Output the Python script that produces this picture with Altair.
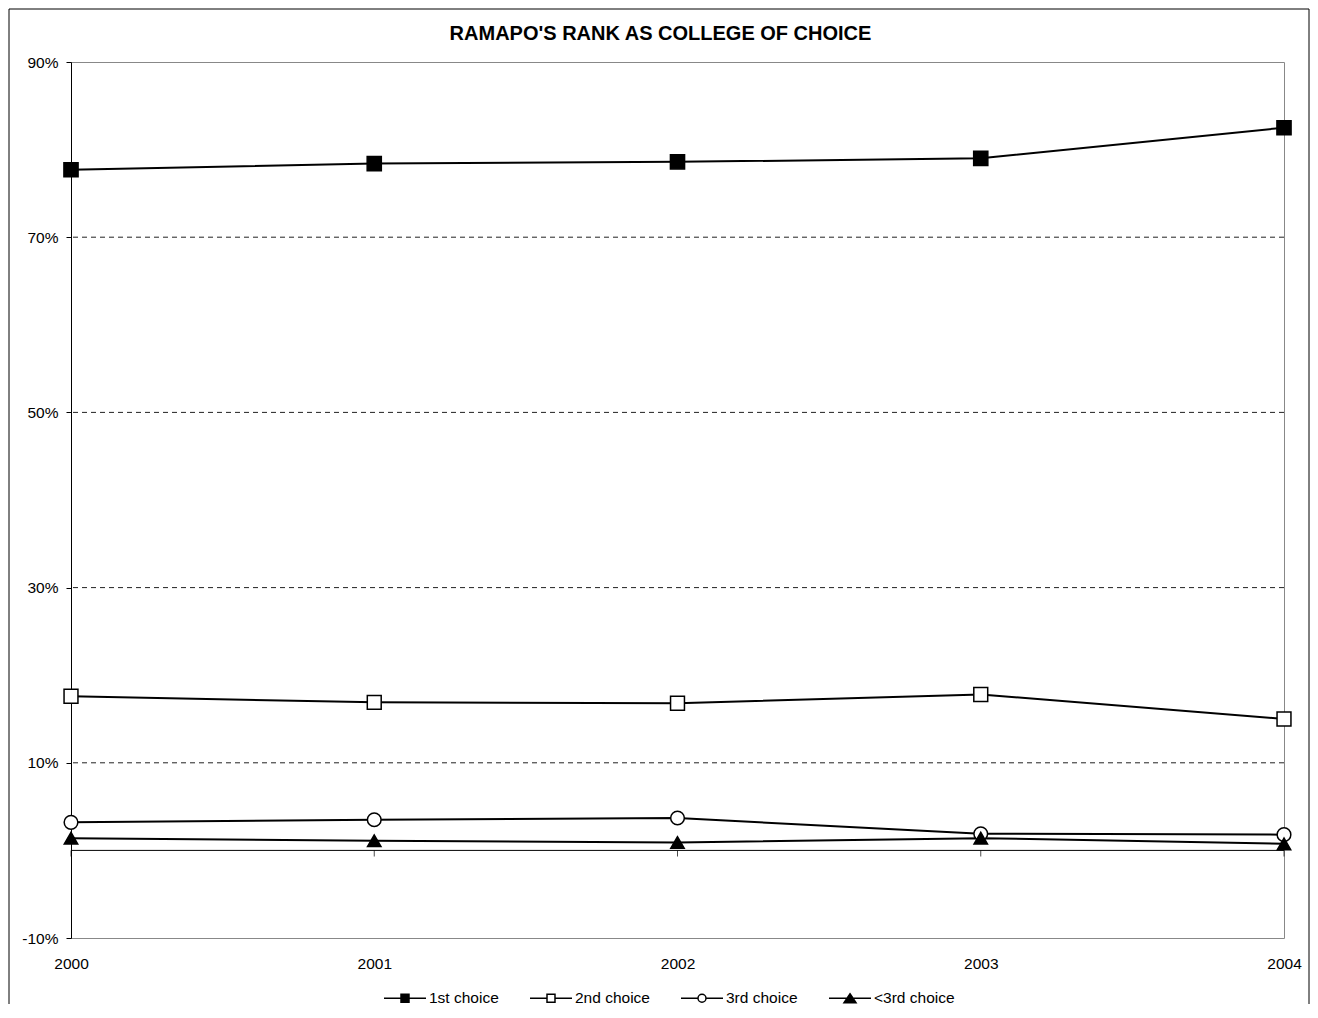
import altair as alt
import pandas as pd

# ---- data ----
years = [2000, 2001, 2002, 2003, 2004]
series_names = ["1st choice", "2nd choice", "3rd choice", "<3rd choice"]
first_choice = [0.777, 0.784, 0.786, 0.790, 0.825]
second_choice = [0.176, 0.169, 0.168, 0.178, 0.150]
third_choice = [0.032, 0.035, 0.037, 0.019, 0.018]
below_third = [0.014, 0.011, 0.009, 0.014, 0.0075]
y_ticks = [-0.1, 0.1, 0.3, 0.5, 0.7, 0.9]
grid_values = [0.1, 0.3, 0.5, 0.7]
zero_value = [0.0]
title_text = "RAMAPO'S RANK AS COLLEGE OF CHOICE"

rows = []
for name, vals in zip(series_names, [first_choice, second_choice, third_choice, below_third]):
    for yr, v in zip(years, vals):
        rows.append({"year": yr, "series": name, "share": v})
df = pd.DataFrame(rows)
grid_df = pd.DataFrame({"share": grid_values})
zero_df = pd.DataFrame({"share": zero_value})
tick_df = pd.DataFrame({"year": years, "share": [0.0] * len(years)})

W, H = 1213, 876
FONT = "Liberation Sans"
FS = 15.5

x_scale = alt.Scale(domain=[2000, 2004], nice=False, zero=False)
y_scale = alt.Scale(domain=[-0.1, 0.9], nice=False, zero=False)
x_axis = alt.Axis(values=years, format="d", title=None, grid=False, ticks=False,
                  domain=False, labelPadding=18, labelFontSize=FS, labelColor="black",
                  labelFont=FONT, labelFlush=False)
y_axis = alt.Axis(values=y_ticks, format=".0%", title=None, grid=False, tickSize=5,
                  tickColor="black", domainColor="black", labelPadding=8,
                  labelFontSize=FS, labelColor="black", labelFont=FONT, labelFlush=False,
                  labelExpr="(datum.value < 0 ? '-' : '') + format(abs(datum.value), '.0%')")

def X():
    return alt.X("year:Q", scale=x_scale, axis=x_axis)

def Y():
    return alt.Y("share:Q", scale=y_scale, axis=y_axis)

series_sort = series_names

grid = alt.Chart(grid_df).mark_rule(color="#222222", strokeWidth=1, strokeDash=[5, 4]).encode(y=Y())
zero_line = alt.Chart(zero_df).mark_rule(color="black", strokeWidth=1).encode(y=Y())
zero_ticks = alt.Chart(tick_df).mark_tick(orient="vertical", color="black", size=6,
                                          thickness=1, yOffset=3).encode(x=X(), y=Y())

lines = alt.Chart(df).mark_line(color="black", strokeWidth=2).encode(
    x=X(), y=Y(), detail="series:N")

points = alt.Chart(df).mark_point(filled=True, stroke="black", strokeWidth=1.5, opacity=1).encode(
    x=X(), y=Y(),
    shape=alt.Shape("series:N", sort=series_sort,
                    scale=alt.Scale(domain=series_names,
                                    range=["square", "square", "circle", "triangle-up"]),
                    legend=None),
    fill=alt.Fill("series:N", sort=series_sort,
                  scale=alt.Scale(domain=series_names,
                                  range=["black", "white", "white", "black"]),
                  legend=None),
    size=alt.Size("series:N", sort=series_sort,
                  scale=alt.Scale(domain=series_names, range=[200, 180, 150, 225]),
                  legend=None),
)

# legend glyphs: a line through a small marker (units of 7 px)
legend_paths = [
    "M-3,0H3M-0.57,-0.57H0.57V0.57H-0.57Z",
    "M-3,0H-0.57M0.57,0H3M-0.57,-0.57H0.57V0.57H-0.57Z",
    "M-3,0H-0.57M0.57,0H3M-0.57,0A0.57,0.57 0 1,0 0.57,0A0.57,0.57 0 1,0 -0.57,0Z",
    "M-3,0H3M0,-0.64L0.86,0.64L-0.86,0.64Z",
]

def make_legend():
    return alt.Legend(title=None, orient="none", direction="horizontal",
                      legendX=326, legendY=928, symbolSize=196,
                      symbolStrokeWidth=1.5, symbolOpacity=1,
                      labelFontSize=FS, labelFont=FONT, labelColor="black",
                      labelOffset=16, columnPadding=28, padding=0)

legend_layer = alt.Chart(df).transform_filter("datum.share > 1").mark_point(
    filled=False, strokeWidth=1.5, opacity=1).encode(
    x=X(), y=Y(),
    shape=alt.Shape("series:N", sort=series_sort,
                    scale=alt.Scale(domain=series_names, range=legend_paths),
                    legend=make_legend()),
    fill=alt.Fill("series:N", sort=series_sort,
                  scale=alt.Scale(domain=series_names,
                                  range=["black", "white", "white", "black"]),
                  legend=make_legend()),
    stroke=alt.Stroke("series:N", sort=series_sort,
                      scale=alt.Scale(domain=series_names,
                                      range=["black", "black", "black", "black"]),
                      legend=make_legend()),
)

one = alt.Data(values=[{}])
frame_left = alt.Chart(one).mark_rule(color="black", strokeWidth=1).encode(
    x=alt.value(-62), y=alt.value(-53), y2=alt.value(H + 66))
frame_right = alt.Chart(one).mark_rule(color="black", strokeWidth=1).encode(
    x=alt.value(W + 25), y=alt.value(-53), y2=alt.value(H + 66))
frame_top = alt.Chart(one).mark_rule(color="black", strokeWidth=1).encode(
    x=alt.value(-62), x2=alt.value(W + 25), y=alt.value(-53))

title = alt.Chart(alt.Data(values=[{"t": title_text}])).mark_text(
    font=FONT, fontSize=20, fontWeight="bold", align="center", baseline="alphabetic",
    color="black").encode(text="t:N", x=alt.value(589.5), y=alt.value(-22))

chart = alt.layer(
    grid, zero_line, zero_ticks, lines, points, legend_layer,
    frame_left, frame_right, frame_top, title
).resolve_scale(
    shape="independent", fill="independent", size="independent", stroke="independent"
).properties(
    width=W, height=H, padding=0, background="white"
).configure_view(
    stroke="#888888", strokeWidth=1
)

chart.save("out.html", embed_options={"renderer": "svg", "actions": False})
